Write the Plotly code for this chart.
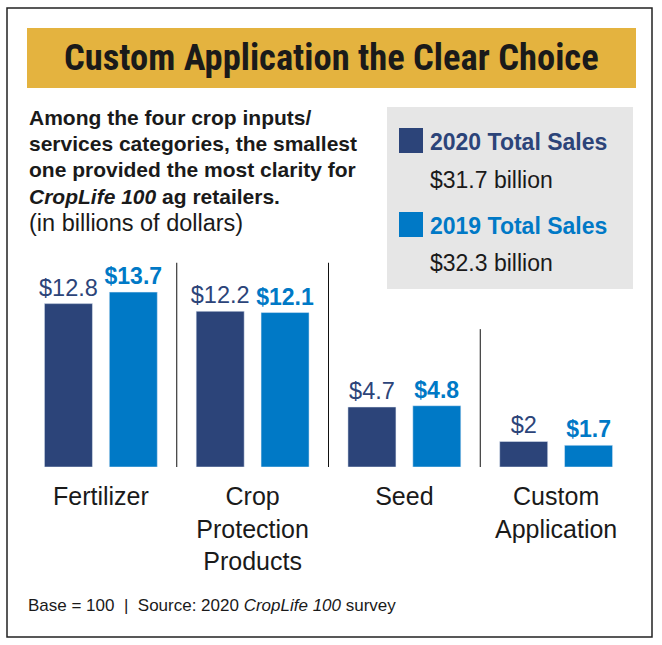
import plotly.graph_objects as go

categories = ["Fertilizer", "Crop<br>Protection<br>Products", "Seed", "Custom<br>Application"]
sales_2020 = [12.8, 12.2, 4.7, 2.0]
sales_2019 = [13.7, 12.1, 4.8, 1.7]
labels_2020 = ["$12.8", "$12.2", "$4.7", "$2"]
labels_2019 = ["$13.7", "$12.1", "$4.8", "$1.7"]
series_names = ["2020 Total Sales", "2019 Total Sales"]
series_totals = ["$31.7 billion", "$32.3 billion"]

DARK = "#2C4479"
BLUE = "#0079C6"
GOLD = "#E4B33F"
GRAY = "#E6E6E6"
INK = "#1a1a1a"
COND = "Roboto Condensed, Roboto, Liberation Sans, sans-serif"
SANS = "Liberation Sans, Arial, Helvetica, sans-serif"

W, H = 662, 645
L, R, T, B = 25, 30, 250, 178
PW, PH = W - L - R, H - T - B
YMAX = 17.0


def px(x):
    return (x - L) / PW


def py(y):
    return (H - B - y) / PH


fig = go.Figure()
fig.add_trace(go.Bar(
    x=categories, y=sales_2020, name=series_names[0], marker_color=DARK,
    text=labels_2020, textposition="outside", cliponaxis=False, constraintext="none",
    textfont=dict(family=SANS, size=23.5, color=DARK),
))
fig.add_trace(go.Bar(
    x=categories, y=sales_2019, name=series_names[1], marker_color=BLUE,
    text=labels_2019, textposition="outside", cliponaxis=False, constraintext="none",
    textfont=dict(family=SANS, size=23, color=BLUE, weight="bold"),
))

shapes = []
shapes.append(dict(type="rect", xref="paper", yref="paper", x0=px(7), x1=px(652), y0=py(8), y1=py(637),
                   line=dict(color="#222222", width=1.5), fillcolor="rgba(0,0,0,0)", layer="below"))
shapes.append(dict(type="rect", xref="paper", yref="paper", x0=px(27), x1=px(636), y0=py(28), y1=py(88),
                   line=dict(width=0), fillcolor=GOLD, layer="below"))
shapes.append(dict(type="rect", xref="paper", yref="paper", x0=px(387), x1=px(633), y0=py(107), y1=py(289),
                   line=dict(width=0), fillcolor=GRAY, layer="below"))
for col, top in [(DARK, 128), (BLUE, 212)]:
    shapes.append(dict(type="rect", xref="paper", yref="paper", x0=px(399), x1=px(423), y0=py(top), y1=py(top + 25),
                       line=dict(width=0), fillcolor=col))
for xs, ytop in [(0.5, 16.0), (1.5, 16.0), (2.5, 10.8)]:
    shapes.append(dict(type="line", xref="x", yref="y", x0=xs, x1=xs, y0=0, y1=ytop,
                       line=dict(color="#111111", width=1)))

annotations = []
annotations.append(dict(xref="paper", yref="paper", x=px(331), y=py(57), text="<b>Custom Application the Clear Choice</b>",
                        showarrow=False, font=dict(family=COND, size=36.5, color=INK), xanchor="center", yanchor="middle"))
sub_lines = [
    ("<b>Among the four crop inputs/</b>", 117, 21),
    ("<b>services categories, the smallest</b>", 143, 21),
    ("<b>one provided the most clarity for</b>", 169, 21),
    ("<b><i>CropLife 100</i> ag retailers.</b>", 196, 21),
    ("(in billions of dollars)", 223, 23.5),
]
for txt, yy, fs in sub_lines:
    annotations.append(dict(xref="paper", yref="paper", x=px(27), y=py(yy), text=txt, showarrow=False,
                            font=dict(family=SANS, size=fs, color=INK), xanchor="left", yanchor="middle"))
for i, (col, ty, vy) in enumerate([(DARK, 142, 180), (BLUE, 226, 263)]):
    annotations.append(dict(xref="paper", yref="paper", x=px(428), y=py(ty), text="<b>" + series_names[i] + "</b>",
                            showarrow=False, font=dict(family=SANS, size=23, color=col), xanchor="left", yanchor="middle"))
    annotations.append(dict(xref="paper", yref="paper", x=px(428), y=py(vy), text=series_totals[i],
                            showarrow=False, font=dict(family=SANS, size=23, color=INK), xanchor="left", yanchor="middle"))
annotations.append(dict(xref="paper", yref="paper", x=px(26), y=py(605),
                        text="Base = 100  |  Source: 2020 <i>CropLife 100</i> survey", showarrow=False,
                        font=dict(family=SANS, size=17, color=INK), xanchor="left", yanchor="middle"))

fig.update_layout(
    width=W, height=H, margin=dict(l=L, r=R, t=T, b=B),
    paper_bgcolor="white", plot_bgcolor="white",
    barmode="group", bargap=0.145, bargroupgap=0.26,
    showlegend=False,
    shapes=shapes, annotations=annotations,
    font=dict(family=SANS),
)
fig.update_xaxes(range=[-0.5, 3.5], showgrid=False, showline=False, zeroline=False, ticks="",
                 tickfont=dict(family=SANS, size=25, color=INK), ticklabelstandoff=12)
fig.update_yaxes(range=[0, YMAX], visible=False, showgrid=False, zeroline=False)

fig.write_html("out.html", config={"displayModeBar": False},
               post_script="document.body.style.margin='0';document.body.style.overflow='hidden';")
